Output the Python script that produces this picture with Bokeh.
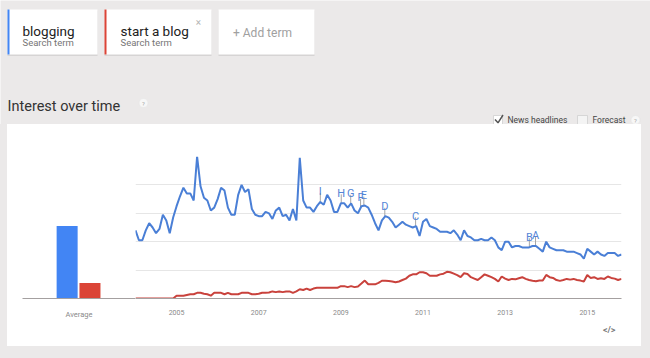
import numpy as np
from bokeh.plotting import figure
from bokeh.layouts import column, row
from bokeh.models import (Range1d, FixedTicker, Title, Spacer,
                          ColumnDataSource, FactorRange)
from bokeh.transform import dodge
from bokeh.core.properties import value
from bokeh.embed import file_html
from bokeh.resources import INLINE

# ---------------- data ----------------
terms = ["blogging", "start a blog"]
first_year = 2004  # monthly series starting January 2004

blogging = [
    48, 41, 41, 48, 53, 50, 46, 49, 59, 55, 46, 57,      # 2004
    65, 72, 78, 74, 74, 69, 100, 79, 71, 69, 62, 64,     # 2005
    70, 78, 76, 64, 59, 59, 73, 80, 75, 77, 63, 59,      # 2006
    58, 58, 61, 60, 56, 62, 64, 58, 59, 55, 63, 55,      # 2007
    99, 69, 64, 64, 61, 65, 68, 66, 73, 69, 61, 61,      # 2008
    67, 67, 64, 67, 62, 60, 65, 65.5, 64, 59, 53, 48,    # 2009
    55, 58, 57, 54, 50, 52, 54, 52, 51, 50, 51, 44,      # 2010
    54, 56, 51, 50, 49, 47, 47, 47, 46, 48, 45, 41,      # 2011
    48, 44, 43, 41, 41, 42, 41, 41, 43, 41, 36, 34,      # 2012
    40, 40, 36, 37, 37, 36, 36, 36, 37, 37, 35, 33,      # 2013
    40, 36, 35, 34, 34, 34, 33, 33, 33, 32, 31, 28,      # 2014
    35, 33, 31, 33, 31, 30, 32, 32, 32, 30, 31,          # 2015
]

start_a_blog = [
    0, 0, 0, 0, 0, 0, 0, 0, 0, 0, 0, 0,                              # 2004
    2, 2, 2, 2.5, 3, 3, 4, 4, 3.3, 3, 2, 4,                           # 2005
    4, 4, 3, 4, 3, 3, 3, 4, 4, 4, 3, 3,                               # 2006
    3.3, 4, 4, 4.2, 5, 4.5, 5, 4.5, 5, 5, 4, 5,                       # 2007
    6.5, 6, 7, 6, 7, 7.5, 7.5, 7.5, 7.5, 7.5, 7.5, 7.5,               # 2008
    8.7, 8.7, 8, 8.7, 8, 8.5, 10.5, 12.6, 10, 10, 10, 11,             # 2009
    12.5, 12.5, 12.3, 12, 11.5, 12, 13, 14, 16, 17, 17, 18.5,         # 2010
    18.5, 17.8, 16, 16, 16, 17, 17.5, 18.8, 18.5, 17.5, 16.5, 15,     # 2011
    17.8, 17.3, 15, 14, 13, 15, 17, 16, 15, 13.8, 12, 15.5,           # 2012
    14, 13, 13.8, 13.5, 14.3, 15, 13.8, 13, 12.5, 12.2, 12.6, 12.6,   # 2013
    16.6, 15, 14.5, 13, 12.4, 13, 13.8, 13.3, 13.8, 13, 12.6, 12,     # 2014
    16.6, 14.5, 15, 13.8, 14.3, 13.8, 15.5, 14.5, 14, 13, 13.8,       # 2015
]

average = [51, 11]
average_label = ["Average"]
year_ticks = [2005, 2007, 2009, 2011, 2013, 2015]
grid_values = [0, 20, 40, 60, 80, 100]

news_letters = ["I", "H", "G", "F", "E", "D", "C", "B", "A"]
news_dates = [2008.50, 2009.01, 2009.24, 2009.48, 2009.56, 2010.07, 2010.82, 2013.59, 2013.74]

# ---------------- styles ----------------
BG = "#ebe9e9"
BLUE_LINE = "#4a7fd6"
RED_LINE = "#c9423c"
BLUE_BAR = "#4285f4"
RED_BAR = "#db4437"
FONT = "Roboto"

# ---------------- header (page coordinates) ----------------
hf = figure(width=650, height=124, x_range=Range1d(0, 650), y_range=Range1d(124, 0),
            toolbar_location=None, output_backend="svg",
            x_axis_location=None, y_axis_location=None, min_border=0,
            background_fill_color=BG, border_fill_color=BG, outline_line_color=None)
hf.grid.visible = False

card_l = [7, 104, 218]
card_r = [97, 211, 314]
hf.quad(left=card_l, right=card_r, top=[10, 10, 10], bottom=[55.5, 55.5, 55.5],
        fill_color="#d6d4d4", line_color=None)
hf.quad(left=card_l, right=card_r, top=[9, 9, 9], bottom=[54, 54, 54],
        fill_color="white", line_color=None)
hf.quad(left=[7, 104], right=[9, 106], top=[9, 9], bottom=[54, 54],
        fill_color=[BLUE_BAR, RED_BAR], line_color=None)

hf.text(x=[22, 120], y=[30, 30], text=terms, text_font=value(FONT), text_font_size="13.5px",
        text_color="#212121", text_baseline="alphabetic")
hf.text(x=[22, 120], y=[41.5, 41.5], text=["Search term", "Search term"], text_font=value(FONT),
        text_font_size="9.5px", text_color="#757575", text_baseline="alphabetic")
hf.text(x=[198], y=[22], text=["×"], text_font=value(FONT), text_font_size="10px",
        text_color="#b5b5b5", text_align="center", text_baseline="middle")
hf.text(x=[262], y=[32.5], text=["+ Add term"], text_font=value(FONT), text_font_size="12px",
        text_color="#a0a0a0", text_align="center", text_baseline="middle")

hf.text(x=[7], y=[106], text=["Interest over time"], text_font=value(FONT),
        text_font_size="14.5px", text_color="#333333", text_baseline="alphabetic")

# help circles
hf.scatter(x=[143, 635], y=[102.5, 119.5], size=9, marker="circle",
           fill_color="#f7f7f7", line_color="#e2e2e2", line_width=0.5)
hf.text(x=[143, 635], y=[102.7, 119.7], text=["?", "?"], text_font=value(FONT),
        text_font_size="6px", text_color="#a8a8a8", text_align="center", text_baseline="middle")

# checkboxes
hf.quad(left=[493, 577], right=[502, 587], top=[115, 115], bottom=[124, 124],
        fill_color=["white", "#f4f4f4"], line_color="#cfcfcf", line_width=0.8)
hf.line(x=[494.5, 497.5, 502.5], y=[119, 122.3, 114.5], line_color="#555555", line_width=1.5)
hf.text(x=[507, 592], y=[119.5, 119.5], text=["News headlines", "Forecast"], text_font=value(FONT),
        text_font_size="8.5px", text_color="#444444", text_baseline="middle")

# ---------------- average bar chart ----------------
bf = figure(width=128, height=222, x_range=FactorRange(factors=average_label),
            y_range=Range1d(0, 100), toolbar_location=None, output_backend="svg",
            y_axis_location=None, min_border_left=15, min_border_right=0,
            min_border_top=32, min_border_bottom=48,
            background_fill_color="white", border_fill_color="white", outline_line_color=None)
bf.grid.visible = False
src_b = ColumnDataSource(dict(cat=average_label, v=[average[0]]))
src_r = ColumnDataSource(dict(cat=average_label, v=[average[1]]))
bf.vbar(x=dodge("cat", -0.105, range=bf.x_range), top="v", width=0.186, source=src_b,
        fill_color=BLUE_BAR, line_color=None)
bf.vbar(x=dodge("cat", 0.097, range=bf.x_range), top="v", width=0.186, source=src_r,
        fill_color=RED_BAR, line_color=None)
bax = bf.xaxis[0]
bax.axis_line_color = "#a4a0a0"
bax.major_tick_line_color = None
bax.minor_tick_line_color = None
bax.major_label_text_font = FONT
bax.major_label_text_font_size = "7.5px"
bax.major_label_text_color = "#8a8a8a"
bax.major_label_standoff = 5

# ---------------- line chart ----------------
x = first_year + np.arange(len(blogging)) / 12.0
src = ColumnDataSource(dict(x=x, blog=blogging, start=start_a_blog))

lf = figure(width=506, height=222, x_range=Range1d(float(x[0]), float(x[-1])),
            y_range=Range1d(0, 100), toolbar_location=None, output_backend="svg",
            y_axis_location=None, min_border_left=0, min_border_right=20,
            min_border_top=32, min_border_bottom=48,
            background_fill_color="white", border_fill_color="white", outline_line_color=None)
lf.xgrid.visible = False
lf.ygrid.ticker = FixedTicker(ticks=grid_values)
lf.ygrid.grid_line_color = "#e6e6e6"
lax = lf.xaxis[0]
lax.ticker = FixedTicker(ticks=year_ticks)
lax.axis_line_color = "#a4a0a0"
lax.major_tick_line_color = None
lax.minor_tick_line_color = None
lax.major_label_text_font = FONT
lax.major_label_text_font_size = "7px"
lax.major_label_text_color = "#8a8a8a"
lax.major_label_standoff = 5

# news headline markers attached to the blogging line
news_y = np.interp(news_dates, x, blogging)
tick_units = 9 / 1.42
lf.segment(x0=news_dates, y0=news_y, x1=news_dates, y1=news_y + tick_units,
           line_color="#a6a6a6", line_width=1)

lf.line("x", "start", source=src, line_color=RED_LINE, line_width=2)
lf.line("x", "blog", source=src, line_color=BLUE_LINE, line_width=2)

lf.text(x=news_dates, y=news_y, text=news_letters, y_offset=-10, text_font=value(FONT),
        text_font_size="11px", text_color="#5585d6", text_align="center",
        text_baseline="alphabetic")

lf.add_layout(Title(text="</>", align="right", offset=6, standoff=10,
                    text_font=FONT, text_font_size="9px", text_font_style="bold",
                    text_color="#7a7a7a"), "below")

gap_left = Spacer(width=7, height=222, styles={"background-color": BG})
gap_right = Spacer(width=9, height=222, styles={"background-color": BG})
bottom = Spacer(width=650, height=12, styles={"background-color": BG})

root = column(hf, row(gap_left, bf, lf, gap_right), bottom)

open("out.html", "w").write(file_html(root, INLINE))
